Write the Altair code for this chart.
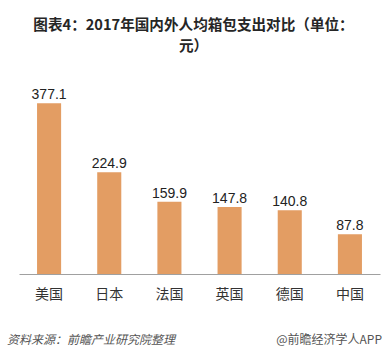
import altair as alt
import pandas as pd

countries = ["美国", "日本", "法国", "英国", "德国", "中国"]
values = [377.1, 224.9, 159.9, 147.8, 140.8, 87.8]
labels = ["377.1", "224.9", "159.9", "147.8", "140.8", "87.8"]
title_lines = ["图表4：2017年国内外人均箱包支出对比（单位：", "元）"]
source_text = "资料来源：前瞻产业研究院整理"
brand_text = "@前瞻经济学人APP"

df = pd.DataFrame({"country": countries, "value": values, "label": labels})

CJK = "Noto Sans CJK SC"
BAR = "#E39D63"

x = alt.X("country:N", sort=countries,
          scale=alt.Scale(paddingInner=0.6, paddingOuter=0.3),
          axis=alt.Axis(title=None, labelAngle=0, ticks=False, domainColor="#A0A0A0",
                        domainWidth=1, labelFont=CJK, labelFontSize=14,
                        labelColor="#333333", labelPadding=13))
y = alt.Y("value:Q", scale=alt.Scale(domain=[0, 400]), axis=None)

bars = alt.Chart(df).mark_bar(color=BAR).encode(x=x, y=y)
text = alt.Chart(df).mark_text(font="Liberation Sans", fontSize=14, color="#222222",
                               baseline="alphabetic", dy=-4).encode(x=x, y=y, text="label:N")

foot = pd.DataFrame({"t": [source_text]})
left = alt.Chart(foot).mark_text(font=CJK, fontSize=12, fontStyle="italic", color="#555555",
                                 align="left", baseline="middle").encode(
    x=alt.value(-12), y=alt.value(247), text="t:N")
foot2 = pd.DataFrame({"t": [brand_text]})
right = alt.Chart(foot2).mark_text(font=CJK, fontSize=12, color="#555555",
                                   align="right", baseline="middle").encode(
    x=alt.value(363), y=alt.value(247), text="t:N")

chart = alt.layer(bars, text, left, right).properties(
    width=361, height=181,
    title=alt.TitleParams(title_lines, font=CJK, fontSize=14.6, fontWeight="bold",
                          color="#262626", anchor="middle", offset=35, dx=-6,
                          lineHeight=21),
    autosize=alt.AutoSizeParams(type="none"),
    padding={"left": 19, "top": 93, "right": 11, "bottom": 83},
    background="white",
).configure_view(stroke=None)

chart.save("out.html", embed_options={"renderer": "svg", "actions": False})
